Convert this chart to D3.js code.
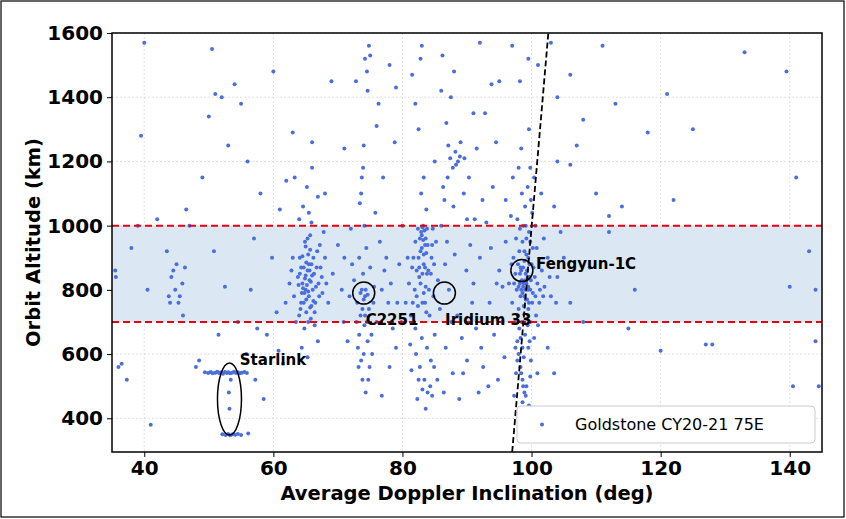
<!DOCTYPE html>
<html><head><meta charset="utf-8">
<script src="https://cdn.jsdelivr.net/npm/d3@7"></script>
<style>body{margin:0;background:#fff}text{font-family:"DejaVu Sans",sans-serif}</style>
</head><body><svg id="c" width="846" height="519"></svg>
<script>
// inclination (deg), altitude (km)
var starlink = [[49.4,543],[49.9,541],[50.3,544],[50.6,540],[51.0,542],[51.3,545],[51.6,541],[51.9,543],[52.2,539],[52.5,544],[52.8,541],[53.0,543],[53.3,540],[53.6,542],[53.9,545],[54.2,541],[54.5,543],[54.8,540],[55.1,542],[55.5,544],[55.9,541],
  [52.1,350],[52.6,348],[53.0,351],[53.3,347],[53.7,350],[54.1,349],[54.5,351],[55.0,348],[56.1,353],[53.1,480],[53.4,520],[53.2,430]];
var cluster65 = [[63.2,780],[63.8,840],[64.1,900],[64.3,760],[64.5,820],[64.7,870],[64.9,950],[65.0,800],[65.1,730],[65.3,860],[65.4,910],[65.5,780],[65.6,830],[65.7,970],[65.8,710],[65.9,880],[66.1,800],[66.3,850],[66.5,760],[66.8,920],[67.0,820],[67.3,870],[67.6,790],[68.0,900],[64.0,1020],[64.6,1060],[65.2,1120],[66.0,1180],[65.5,1040],[63.5,700],[64.8,680],[66.4,690],[62.5,820],[61.9,760],[68.5,760],[69.2,850],[70.0,940],[70.6,800],[64.4,620],[65.3,590],[66.9,640],[65.9,1010],[64.2,740],[65.1,885],[65.7,925],[66.2,765],[64.9,835],[67.8,980],
  [64.6,805],[64.8,790],[65.0,845],[65.2,815],[65.4,795],[65.6,860],[65.8,825],[66.0,845],[64.3,870],[64.5,905],[65.0,935],[65.3,960],[64.7,760],[65.9,750],[66.6,810],[67.1,780],[67.5,840],[63.9,815],[64.1,850],[65.5,880],[66.2,900],[66.7,870],[64.4,790],[65.1,770],[65.7,745],[66.4,730],[64.0,720],[65.4,700],[67.2,940],[68.2,820],[63.0,900],[62.8,860],[66.9,1090],[63.3,1150]];
var cluster74 = [[72.5,830],[73.0,760],[73.3,900],[73.5,720],[73.7,800],[73.9,850],[74.1,690],[74.2,780],[74.4,930],[74.6,640],[74.8,740],[75.0,870],[75.3,600],[75.6,810],[76.0,700],[73.2,560],[73.8,520],[74.3,480],[74.9,560],[73.6,1100],[73.9,1180],[74.0,1250],[74.5,1480],[75.0,1530],[74.8,1560],[73.4,1070],[76.5,950],[77.2,860],[77.8,760],[78.5,680],[71.5,640],[72.0,990],[75.8,1040],[77.0,1150],[78.8,1260],[76.3,1380],[72.8,1450],[79.5,880],[78.0,560],[76.8,470],[79.0,620],[71.0,900],
  [73.5,790],[74.0,770],[74.3,800],[74.6,785],[73.8,740],[74.2,720],[73.3,660],[74.5,700],[73.1,620],[74.0,600],[75.2,660],[73.6,580],[74.7,520],[72.9,700],[75.5,760],[76.8,800],[77.5,900],[78.2,820],[79.2,760],[71.8,780],[70.9,700],[72.2,880],[74.1,1000],[73.7,1150],[74.2,1520],[74.6,1420]];
var cluster83 = [[80.5,760],[81.0,820],[81.5,870],[81.8,700],[82.0,950],[82.2,780],[82.4,990],[82.6,840],[82.8,920],[83.0,970],[83.1,760],[83.2,1000],[83.3,880],[83.5,940],[83.6,810],[83.8,990],[84.0,860],[84.2,720],[84.5,900],[84.8,780],[85.0,660],[85.5,830],[82.1,600],[82.7,560],[83.4,520],[83.9,480],[84.3,500],[82.3,460],[81.2,630],[83.7,1050],[82.9,1100],[83.3,1150],[82.5,1300],[82.0,1380],[81.5,1470],[82.8,1520],[83.0,1560],[80.0,1000],[79.8,700],[81.7,900],[84.7,990],[85.8,740],[84.9,560],[83.6,430],
  [82.5,900],[82.7,960],[82.9,980],[83.0,930],[83.1,995],[83.2,955],[83.3,910],[83.4,985],[83.5,870],[83.6,960],[83.7,915],[83.8,850],[83.9,940],[82.6,870],[82.8,820],[83.1,850],[83.3,790],[83.5,760],[83.7,730],[84.1,800],[84.4,850],[84.6,940],[82.4,750],[82.2,860],[81.9,800],[81.6,760],[81.3,720],[80.8,900],[84.9,880],[85.2,950],[82.0,680],[83.0,650],[83.8,620],[84.4,580],[82.5,520],[83.1,490],[84.6,470],[81.4,550],[85.4,520]];
var cluster87 = [[86.0,1000],[86.5,1080],[87.0,1150],[87.4,1210],[87.8,1180],[88.2,1230],[88.6,1200],[89.0,1260],[86.8,1320],[87.5,1400],[88.0,1480],[86.2,1530],[89.5,1100],[90.0,1020],[90.5,940],[86.6,880],[87.2,800],[88.5,720],[89.2,650],[90.0,580],[87.8,540],[86.4,480],[88.8,460],[91.0,820],[92.0,900],[93.0,1010],[94.0,1120],[91.5,1240],[92.8,1350],[94.5,1260],[95.0,860],[93.5,760],[92.2,620],[94.8,520],[95.5,700],[96.0,1080],[91.8,480],[93.8,1440],
  [86.3,1120],[87.9,1060],[88.9,1215],[89.6,1210],[88.3,1190],[87.1,1250],[86.9,950],[88.1,910],[89.9,860],[90.8,760],[91.4,680],[92.5,560],[93.3,500],[89.4,540],[86.7,620],[87.6,700],[90.3,1150],[92.4,1080],[93.7,930],[94.6,820],[95.8,590],[94.2,660],[91.2,1020]];
var cluster98 = [[96.5,820],[97.0,760],[97.2,900],[97.4,700],[97.5,850],[97.6,960],[97.7,800],[97.8,640],[97.9,880],[98.0,740],[98.1,920],[98.2,820],[98.3,780],[98.4,860],[98.5,700],[98.6,950],[98.7,810],[98.8,750],[98.9,890],[99.0,830],[99.1,770],[99.2,910],[99.3,860],[99.4,800],[99.5,740],[99.6,980],[99.7,840],[99.8,700],[100.0,880],[100.2,790],[100.5,840],[100.8,930],[101.2,760],[101.6,860],[102.0,810],[102.5,900],[103.0,780],[98.0,600],[98.3,560],[98.6,520],[98.9,480],[99.2,500],[99.5,620],[97.6,540],[97.3,470],[99.9,580],[100.4,650],[98.7,1000],[99.0,1060],[99.4,1120],[99.8,1180],[100.1,1040],[98.4,1240],[99.6,1300],[100.6,1000],[101.5,1100],[97.1,1150],[96.8,1030],[99.3,430],[98.1,400],[100.9,540],[104.0,840],[105.0,900],[106.0,760],[104.5,980],[103.5,1060],[98.2,1450],[99.5,1520],[96.0,950],[95.5,810],[101.0,690],[102.5,620],
  [98.0,810],[98.2,850],[98.3,870],[98.4,800],[98.5,830],[98.6,790],[98.7,870],[98.8,820],[98.9,780],[99.0,800],[99.1,850],[99.2,820],[99.3,770],[99.4,840],[99.5,810],[99.6,760],[99.7,880],[99.8,800],[99.9,830],[100.1,760],[100.3,870],[100.6,780],[100.9,820],[101.3,800],[101.8,780],[97.9,720],[98.1,680],[98.3,650],[98.6,620],[98.8,590],[99.0,660],[99.2,710],[99.4,690],[99.7,640],[98.4,540],[98.7,500],[99.1,470],[97.8,580],[99.8,530],[97.5,620],[98.9,920],[99.2,960],[99.5,900],[99.8,950],[100.2,930],[98.5,1100],[99.1,1000],[99.9,1080],[100.4,1150],[97.8,1020],[98.2,990],[96.9,880],[97.3,820],[102.8,840],[103.8,760],[101.9,960],[100.7,720],[98.6,450],[99.6,440],[98.0,1180]];
var scatter = [[35.5,860],[35.6,840],[36.0,560],[36.5,570],[37.3,520],[38.0,930],[39.0,1000],[39.5,1280],[40.0,1570],[40.5,800],[41.0,380],[42.0,1020],[43.5,920],[44.0,760],[44.5,860],[45.0,880],[45.5,780],[46.0,720],[47.0,1000],[48.5,580],[49.0,1150],[50.0,1340],[50.5,1550],[51.0,1410],[52.0,1400],[53.0,1250],[54.0,1440],[55.0,1380],[56.0,1200],[56.5,800],[57.0,960],[58.0,1100],[59.0,660],[60.0,1480],[61.0,1050],[62.0,1140],[63.0,1290],[66.0,1260],[68.0,1100],[69.0,1450],[71.0,1240],[76.0,1310],[78.0,1500],[79.0,1430],[85.0,1200],[86.0,1420],[91.0,1350],[92.0,1570],[95.0,1450],[97.0,1560],[101.0,1500],[103.0,1570],[104.0,1400],[106.0,1470],[107.0,1250],[108.0,1330],[110.0,1100],[111.0,1560],[112.0,980],[113.0,1380],[114.0,1060],[116.0,800],[118.0,1290],[120.0,610],[121.0,1410],[122.0,1080],[125.0,1300],[127.0,630],[128.0,630],[133.0,1540],[139.5,1480],[140.0,810],[140.5,500],[141.0,1150],[143.0,920],[144.0,640],[144.0,800],[144.5,500],[108.0,700],[106.0,1190],[109.0,870],[112.0,1030],[115.0,680],[48.0,560],[46.5,1050],[58.5,460],[60.5,730],[61.5,570],[57.5,680],[104.0,1200],[103.5,540],
  [44.2,840],[45.3,760],[44.8,800],[46.3,870],[43.8,780],[45.9,820],[52.5,810],[51.5,660],[54.5,700],[55.8,600],[57.2,520],[59.8,900],[60.8,610],[50.8,920]];
var groups = [starlink, cluster65, cluster74, cluster83, cluster87, cluster98, scatter];
var xTicks = [40, 60, 80, 100, 120, 140];
var yTicks = [400, 600, 800, 1000, 1200, 1400, 1600];
var circled = [{name:"C2251", x:74, y:790}, {name:"Iridium 33", x:86.5, y:790}, {name:"Fengyun-1C", x:98.5, y:860}];

var svg = d3.select("#c");
var m = {l:112, r:822, t:33, b:452};
var x = d3.scaleLinear().domain([35, 145]).range([m.l, m.r]);
var y = d3.scaleLinear().domain([295, 1600]).range([m.b, m.t]);

svg.append("rect").attr("x",1).attr("y",1).attr("width",843).attr("height",516).attr("fill","none").attr("stroke","#000").attr("stroke-width",1.2);

svg.append("g").selectAll("line").data(xTicks).enter().append("line")
  .attr("x1",d=>x(d)).attr("x2",d=>x(d)).attr("y1",m.t).attr("y2",m.b).attr("stroke","#ccc").attr("stroke-width",0.6).attr("stroke-dasharray","2,2");
svg.append("g").selectAll("line").data(yTicks).enter().append("line")
  .attr("x1",m.l).attr("x2",m.r).attr("y1",d=>y(d)).attr("y2",d=>y(d)).attr("stroke","#ccc").attr("stroke-width",0.6).attr("stroke-dasharray","2,2");

svg.append("rect").attr("x",m.l).attr("y",y(1000)).attr("width",m.r-m.l).attr("height",y(700)-y(1000)).attr("fill","#dbe7f3");

var pts = [].concat.apply([], groups);
svg.append("g").selectAll("circle").data(pts).enter().append("circle")
  .attr("cx",d=>x(d[0])).attr("cy",d=>y(d[1])).attr("r",2).attr("fill","#4a6fdc");

[700,1000].forEach(function(v){
  svg.append("line").attr("x1",m.l).attr("x2",m.r).attr("y1",y(v)).attr("y2",y(v)).attr("stroke","#e8000b").attr("stroke-width",2).attr("stroke-dasharray","7,4");
});
svg.append("line").attr("x1",x(97)).attr("y1",y(295)).attr("x2",x(102.6)).attr("y2",y(1600)).attr("stroke","#000").attr("stroke-width",1.8).attr("stroke-dasharray","6,3");

// annotations
svg.append("ellipse").attr("cx",x(53.2)).attr("cy",y(460)).attr("rx",12).attr("ry",36).attr("fill","none").attr("stroke","#000").attr("stroke-width",1.5);
svg.append("text").attr("x",x(54.8)).attr("y",y(565)).text("Starlink").attr("font-size",15).attr("font-weight","bold");
circled.forEach(function(c){
  svg.append("circle").attr("cx",x(c.x)).attr("cy",y(c.y)).attr("r",11).attr("fill","none").attr("stroke","#000").attr("stroke-width",1.5);
});
svg.append("text").attr("x",x(74.3)).attr("y",y(690)).text("C2251").attr("font-size",15).attr("font-weight","bold");
svg.append("text").attr("x",x(86.6)).attr("y",y(690)).text("Iridium 33").attr("font-size",15).attr("font-weight","bold");
svg.append("text").attr("x",x(100.7)).attr("y",y(865)).text("Fengyun-1C").attr("font-size",15).attr("font-weight","bold");

// axes
svg.append("rect").attr("x",m.l).attr("y",m.t).attr("width",m.r-m.l).attr("height",m.b-m.t).attr("fill","none").attr("stroke","#000").attr("stroke-width",1.5);
var xa = svg.append("g").attr("transform","translate(0,"+m.b+")").call(d3.axisBottom(x).tickValues(xTicks).tickFormat(d3.format("d")).tickSize(5).tickPadding(4));
var ya = svg.append("g").attr("transform","translate("+m.l+",0)").call(d3.axisLeft(y).tickValues(yTicks).tickFormat(d3.format("d")).tickSize(5).tickPadding(4));
[xa,ya].forEach(function(a){
  a.select(".domain").remove();
  a.selectAll("text").attr("font-size",20).attr("font-weight","bold").attr("fill","#000").style("font-family","DejaVu Sans");
});
svg.append("text").attr("x",(m.l+m.r)/2).attr("y",500).attr("text-anchor","middle").attr("font-size",19.5).attr("font-weight","bold").text("Average Doppler Inclination (deg)");
svg.append("text").attr("transform","translate(40,"+((m.t+m.b)/2)+") rotate(-90)").attr("text-anchor","middle").attr("font-size",19.5).attr("font-weight","bold").text("Orbit Altitude (km)");

// legend
var lg = svg.append("g").attr("transform","translate(517,406)");
lg.append("rect").attr("width",298).attr("height",37).attr("rx",4).attr("fill","#fff").attr("stroke","#ccc");
lg.append("circle").attr("cx",25).attr("cy",18.5).attr("r",2).attr("fill","#4a6fdc");
lg.append("text").attr("x",58).attr("y",24).attr("font-size",16).text("Goldstone CY20-21 75E");
</script></body></html>
